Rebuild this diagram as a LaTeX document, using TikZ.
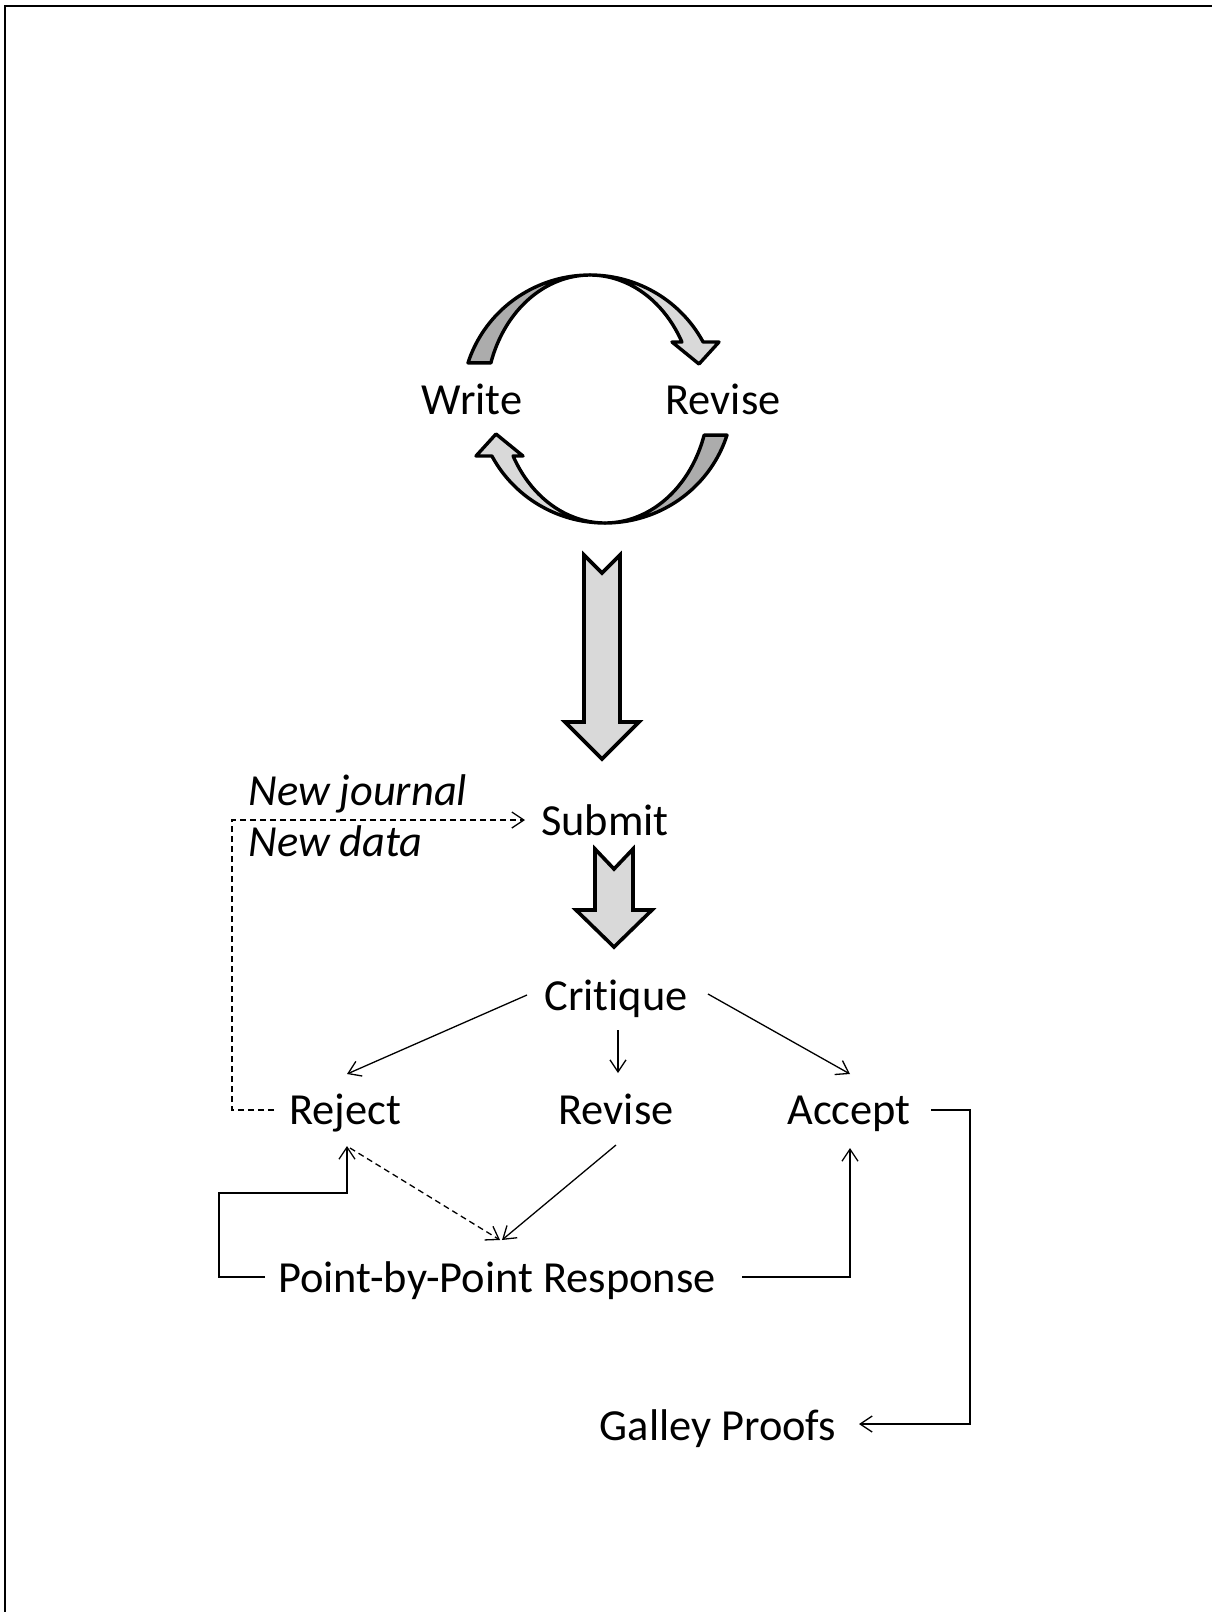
\documentclass[tikz,border=0pt]{standalone}
\usepackage{fontspec}
\setmainfont[Ligatures=NoCommon]{Carlito}
\usetikzlibrary{calc,arrows.meta}
\definecolor{lightface}{RGB}{217,217,217}
\definecolor{darkface}{RGB}{172,172,172}
\begin{document}
\begin{tikzpicture}[x=0.5pt,y=-0.5pt,
  lbl/.style={font=\fontsize{22.2}{26}\selectfont, inner sep=0pt, anchor=base},
  conn/.style={line width=0.65pt, -{Straight Barb[length=6pt,width=8pt]}},
  dsh/.style={dash pattern=on 3pt off 2pt},
  fat/.style={line width=1.8pt, draw=black, line join=miter},
  rib/.style={line width=1.7pt, draw=black, line join=round}]
\useasboundingbox (0,0) rectangle (1211,1612);
% frame (only top and left visible)
\draw[line width=1.1pt] (5,1625) -- (5,6) -- (1225,6);

% --- write/revise cycle ---
\filldraw[rib, fill=darkface]
  plot[domain=197.6:270, samples=40] ({590+128*cos(\x)},{401+126*sin(\x)})
  -- plot[domain=270:197.6, samples=40] ({590+104*cos(\x)},{401+126*sin(\x)}) -- cycle;
\filldraw[rib, fill=lightface]
  plot[domain=270:332.1, samples=40] ({590+128*cos(\x)},{401+126*sin(\x)})
  -- (719,342) -- (699,364) -- (672,342)
  -- plot[domain=332.1:270, samples=40] ({590+104*cos(\x)},{401+126*sin(\x)}) -- cycle;
\begin{scope}[rotate around={180:(597.5,399)}]
\filldraw[rib, fill=darkface]
  plot[domain=197.6:270, samples=40] ({590+128*cos(\x)},{401+126*sin(\x)})
  -- plot[domain=270:197.6, samples=40] ({590+104*cos(\x)},{401+126*sin(\x)}) -- cycle;
\filldraw[rib, fill=lightface]
  plot[domain=270:332.1, samples=40] ({590+128*cos(\x)},{401+126*sin(\x)})
  -- (719,342) -- (699,364) -- (672,342)
  -- plot[domain=332.1:270, samples=40] ({590+104*cos(\x)},{401+126*sin(\x)}) -- cycle;
\end{scope}

% --- block arrows ---
\filldraw[fat, fill=lightface] (584,555) -- (602,573) -- (620,555) -- (620,722)
  -- (639,722) -- (602,759) -- (565,722) -- (584,722) -- cycle;
\filldraw[fat, fill=lightface] (595,849) -- (614,869) -- (633,849) -- (633,910)
  -- (652,910) -- (614,947) -- (576,910) -- (595,910) -- cycle;

% --- labels ---
\node[lbl] (write) at (472,414) {Write};
\node[lbl] (revA) at (723,414) {Revise};
\node[lbl] (submit) at (605,835) {Submit};
\node[lbl, anchor=base west] (nj) at (248,805) {\itshape New journal};
\node[lbl, anchor=base west] (nd) at (248,856) {\itshape New data};
\node[lbl] (crit) at (616,1010) {Critique};
\node[lbl] (rej) at (345,1124) {Reject};
\node[lbl] (revB) at (616,1124) {Revise};
\node[lbl] (acc) at (849,1124) {Accept};
\node[lbl] (pbp) at (497,1292) {Point-by-Point Response};
\node[lbl] (galley) at (718,1440) {Galley Proofs};

% --- connectors ---
\coordinate (dl) at (232,820);
\coordinate (pl1) at (219,1277);
\coordinate (pl2) at (347,1193);
\coordinate (ar) at (970,1110);

\draw[conn] ($(crit.base)+(-89,-15)$) -- ($(rej.base)+(2,-50)$);
\draw[conn] ($(crit.base)+(2,20)$) -- ($(revB.base)+(2,-51)$);
\draw[conn] ($(crit.base)+(92,-16)$) -- ($(acc.base)+(1,-50)$);
\draw[conn,dsh] ($(rej.base)+(-71,-14)$) -| (dl) -- ($(submit.base)+(-80,-15)$);
\draw[conn] ($(pbp.base)+(-232,-15)$) -- (pl1) |- (pl2) -- ($(rej.base)+(2,22)$);
\draw[conn,dsh] ($(rej.base)+(5,24)$) -- ($(pbp.base)+(3,-52)$);
\draw[conn] ($(revB.base)+(0,21)$) -- ($(pbp.base)+(5,-52)$);
\draw[conn] ($(pbp.base)+(245,-15)$) -| ($(acc.base)+(1,24)$);
\draw[conn] ($(acc.base)+(82,-14)$) -- (ar) |- ($(galley.base)+(141,-16)$);
\end{tikzpicture}
\end{document}
